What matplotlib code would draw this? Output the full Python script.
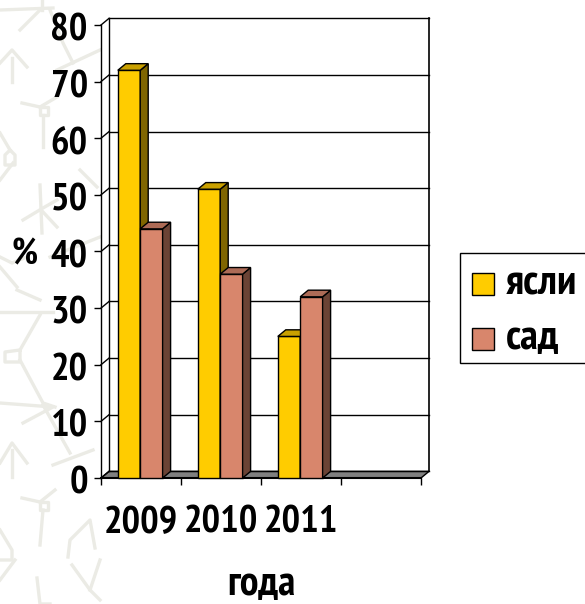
import matplotlib
matplotlib.use('Agg')
import matplotlib.pyplot as plt
from matplotlib.patches import Polygon, Rectangle
from matplotlib.lines import Line2D
from matplotlib.transforms import ScaledTranslation

W, H = 585, 604
plt.rcParams['font.family'] = ['PT Sans Narrow', 'Roboto Condensed', 'Liberation Sans', 'DejaVu Sans']
plt.rcParams['font.weight'] = 'bold'

years = ['2009', '2010', '2011']
yasli = [72, 51, 25]
sad = [44, 36, 32]
yticks = [0, 10, 20, 30, 40, 50, 60, 70, 80]

YELLOW, YELLOW_SIDE, YELLOW_TOP = '#FFCC00', '#806600', '#C9A000'
SALMON, SALMON_SIDE, SALMON_TOP = '#D8866C', '#6B4335', '#AD6B56'
DX, DY = 0.1, 1.17
BAR_W = 0.28
OFFSET = 0.21

# faint watermark behind the chart, in picture pixels
WATERMARK = [
    [(0, 10), (53, 8)], [(40, 10), (20, 30)], [(42, 0), (42, 10)], [(50, 10), (63, 43), (73, 63)], [(57, 70), (100, 50)],
    [(0, 63), (12, 50), (27, 67)], [(12, 58), (12, 82)],
    [(22, 103), (40, 107), (57, 97)], [(40, 107), (48, 107), (48, 115), (40, 115), (40, 107)], [(43, 115), (43, 147)],
    [(0, 133), (10, 150), (15, 155), (15, 165), (5, 165), (5, 155), (10, 150)], [(0, 180), (13, 163)],
    [(80, 170), (97, 187)], [(40, 185), (42, 233)], [(23, 220), (43, 208), (57, 200)], [(43, 212), (57, 227)],
    [(50, 257), (100, 237)], [(0, 257), (12, 263), (27, 257)], [(0, 267), (17, 287)], [(17, 290), (40, 300)],
    [(0, 312), (53, 312)], [(40, 315), (20, 350), (20, 362), (5, 362), (5, 352), (20, 350)], [(20, 360), (43, 403), (55, 407)],
    [(0, 403), (53, 407), (23, 423)], [(43, 405), (70, 453)], [(53, 465), (93, 450)],
    [(0, 463), (12, 443), (27, 463)], [(12, 450), (12, 477)],
    [(22, 498), (40, 502), (55, 490)], [(40, 502), (48, 502), (48, 510), (40, 510), (40, 502)], [(43, 510), (40, 545)],
    [(0, 530), (12, 550), (12, 560), (0, 560)], [(0, 580), (15, 560)],
    [(68, 557), (70, 540), (90, 520), (95, 548)], [(72, 565), (90, 590), (100, 600)], [(100, 560), (90, 590)],
    [(37, 578), (40, 604), (50, 604)],
]

fig = plt.figure(figsize=(W / 100, H / 100), dpi=100)
for pts in WATERMARK:
    fig.add_artist(Line2D([p[0] / W for p in pts], [1 - p[1] / H for p in pts], color='#EBEBE5', lw=2.4,
                          transform=fig.transFigure, zorder=0))

ax = fig.add_axes([101 / W, 1 - 478 / H, 320 / W, 453 / H])
ax.set_xlim(0, 4)
ax.set_ylim(0, 80)
for s in ax.spines.values():
    s.set_visible(False)
ax.patch.set_visible(False)

# walls and floor
ax.add_patch(Polygon([(DX, 80 + DY), (4 + DX, 80 + DY), (4 + DX, DY), (DX, DY)], fc='w', ec='none', clip_on=False, zorder=0))
ax.add_patch(Polygon([(0, 0), (DX, DY), (DX, 80 + DY), (0, 80)], fc='w', ec='none', clip_on=False, zorder=0))
ax.add_patch(Polygon([(DX, DY), (4 + DX, DY), (4, 0), (0, 0)], fc='#808080', ec='k', lw=1, clip_on=False, zorder=1))
ax.plot([DX, DX], [DY, 80 + DY], color='k', lw=1, clip_on=False, zorder=1)
ax.plot([4 + DX, 4 + DX], [DY, 80 + DY], color='k', lw=1.2, clip_on=False, zorder=1)
for v in yticks:
    ax.plot([DX, 4 + DX], [v + DY, v + DY], color='k', lw=1, clip_on=False, zorder=1)
    ax.plot([0, DX], [v, v + DY], color='k', lw=1, clip_on=False, zorder=1)


def bar3d(x, v, front, side, top, z):
    ax.bar(x, v, BAR_W, align='edge', color=front, ec='k', lw=1, zorder=z, clip_on=False)
    ax.add_patch(Polygon([(x + BAR_W, 0), (x + BAR_W + DX, DY), (x + BAR_W + DX, v + DY), (x + BAR_W, v)],
                         fc=side, ec='k', lw=1, zorder=z, clip_on=False))
    ax.add_patch(Polygon([(x, v), (x + DX, v + DY), (x + BAR_W + DX, v + DY), (x + BAR_W, v)],
                         fc=top, ec='k', lw=1, zorder=z, clip_on=False))


for i in range(len(years)):
    bar3d(i + OFFSET, yasli[i], YELLOW, YELLOW_SIDE, YELLOW_TOP, 3)
    bar3d(i + OFFSET + BAR_W, sad[i], SALMON, SALMON_SIDE, SALMON_TOP, 4)

ax.set_yticks(yticks)
ax.set_xticks([0, 1, 2, 3, 4])
ax.set_xticklabels([])
ax.set_xticks([0.5, 1.5, 2.5], years, minor=True)
ax.tick_params(axis='x', which='major', length=5, width=1, color='k')
ax.tick_params(axis='x', which='minor', length=0, labelsize=28, pad=20)
ax.tick_params(axis='y', length=5, width=1, color='k', labelsize=28, pad=4.5)
shift = ScaledTranslation(0, -2 / 100, fig.dpi_scale_trans)
for t in ax.get_yticklabels():
    t.set_transform(t.get_transform() + shift)
ax.plot([0, 4], [0, 0], color='k', lw=1.5, clip_on=False, zorder=2)
ax.plot([0, 0], [0, 80], color='k', lw=1, clip_on=False, zorder=2)

fig.text(25 / W, 1 - 255 / H, '%', fontsize=26, ha='center', va='center')
fig.text(261 / W, 1 - 595 / H, 'года', fontsize=30, ha='center', va='baseline')

# legend
fig.add_artist(Rectangle((460 / W, 1 - 363 / H), 130 / W, 110 / H, transform=fig.transFigure, fc='w', ec='k', lw=1))
for lab, col, y in [('ясли', YELLOW, 284), ('сад', SALMON, 339)]:
    fig.add_artist(Rectangle((472 / W, 1 - (y + 11) / H), 22 / W, 22 / H, transform=fig.transFigure, fc=col, ec='k', lw=1))
    fig.text(506 / W, 1 - y / H, lab, fontsize=31, ha='left', va='center')

fig.savefig('out.png', dpi=100)
